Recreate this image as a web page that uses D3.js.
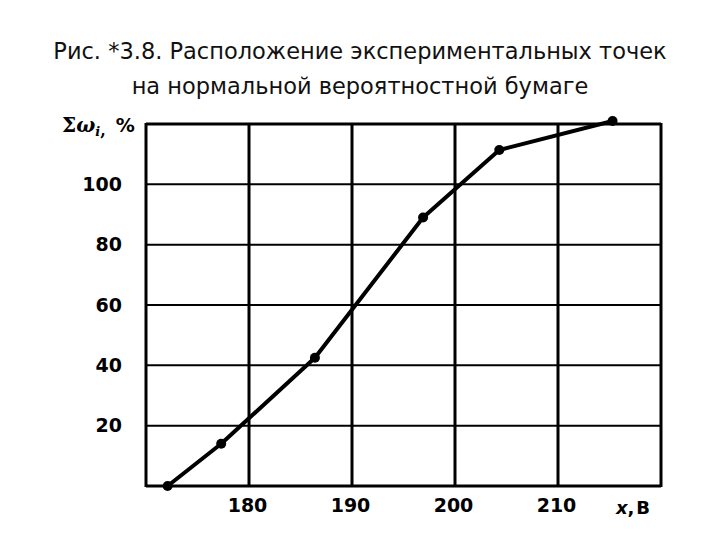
<!DOCTYPE html>
<html>
<head>
<meta charset="utf-8">
<script src="https://cdn.jsdelivr.net/npm/d3@7"></script>
<style>
  html, body { margin: 0; padding: 0; background: #fff; }
  svg { display: block; }
</style>
</head>
<body>
<svg id="chart" width="720" height="540"></svg>
<script>
// ---- data ----
const titleLines = ["Рис. *3.8. Расположение экспериментальных точек", "на нормальной вероятностной бумаге"];
const xValues = [172.1, 177.3, 186.4, 196.9, 204.3, 215.3];
const yValues = [0, 14, 42.5, 89, 111.4, 121];
const xTicks = [180, 190, 200, 210];
const yTicks = [20, 40, 60, 80, 100];
const xGrid = [170, 180, 190, 200, 210, 220];
const yGrid = [0, 20, 40, 60, 80, 100, 120];
const xDomain = [170, 220];
const yDomain = [0, 120];

const svg = d3.select("#chart");

// title
svg.append("g").selectAll("text").data(titleLines).join("text")
  .attr("x", 360)
  .attr("y", (d, i) => 59 + i * 35)
  .attr("text-anchor", "middle")
  .attr("font-family", "DejaVu Sans, sans-serif")
  .attr("font-size", 22.5)
  .attr("fill", "#111")
  .text(d => d);

const x = d3.scaleLinear().domain(xDomain).range([146, 661]);
const y = d3.scaleLinear().domain(yDomain).range([486, 124]);

// grid
svg.append("g").selectAll("line").data(yGrid).join("line")
  .attr("x1", x(xDomain[0])).attr("x2", x(xDomain[1]))
  .attr("y1", d => y(d)).attr("y2", d => y(d))
  .attr("stroke", "#000")
  .attr("stroke-width", (d, i) => (i === 0 || i === yGrid.length - 1) ? 3 : 2);

svg.append("g").selectAll("line").data(xGrid).join("line")
  .attr("y1", y(yDomain[0]) + 1).attr("y2", y(yDomain[1]) - 1)
  .attr("x1", d => x(d)).attr("x2", d => x(d))
  .attr("stroke", "#000")
  .attr("stroke-width", 3);

// axes labels via d3 axes
const xAxis = svg.append("g")
  .attr("transform", `translate(0,${y(0)})`)
  .call(d3.axisBottom(x).tickValues(xTicks).tickSize(0).tickPadding(13).tickFormat(d3.format("d")));
xAxis.select(".domain").remove();
xAxis.selectAll("text")
  .attr("font-family", "DejaVu Sans, sans-serif")
  .attr("font-weight", "bold")
  .attr("font-size", 19)
  .attr("fill", "#000")
  .attr("dx", -2);

const yAxis = svg.append("g")
  .attr("transform", `translate(${x(170) - 24},0)`)
  .call(d3.axisLeft(y).tickValues(yTicks).tickSize(0).tickPadding(0).tickFormat(d3.format("d")));
yAxis.select(".domain").remove();
yAxis.selectAll("text")
  .attr("font-family", "DejaVu Sans, sans-serif")
  .attr("font-weight", "bold")
  .attr("font-size", 19)
  .attr("fill", "#000");

// axis titles
const yt = svg.append("text")
  .attr("x", 62).attr("y", 132)
  .attr("font-family", "DejaVu Serif, serif")
  .attr("font-weight", "bold")
  .attr("font-size", 20)
  .attr("fill", "#000");
yt.append("tspan").text("Σ");
yt.append("tspan").attr("font-style", "italic").text("ω");
yt.append("tspan").attr("font-style", "italic").attr("font-size", 13).attr("dy", 4).text("i");
yt.append("tspan").attr("font-size", 16).text(",");
yt.append("tspan").attr("dy", -4).attr("dx", 10).attr("font-family", "DejaVu Sans, sans-serif").attr("font-size", 19).text("%");

const xt = svg.append("text")
  .attr("x", 633).attr("y", 514)
  .attr("text-anchor", "middle")
  .attr("font-family", "DejaVu Sans, sans-serif")
  .attr("font-weight", "bold")
  .attr("font-size", 18)
  .attr("fill", "#000");
xt.append("tspan").attr("font-style", "italic").text("x");
xt.append("tspan").text(",");
xt.append("tspan").attr("dx", 2).text("B");

// line
const pts = xValues.map((v, i) => [v, yValues[i]]);
svg.append("path")
  .datum(pts)
  .attr("fill", "none")
  .attr("stroke", "#000")
  .attr("stroke-width", 4)
  .attr("stroke-linejoin", "round")
  .attr("d", d3.line().x(d => x(d[0])).y(d => y(d[1])));

svg.append("g").selectAll("circle").data(pts).join("circle")
  .attr("cx", d => x(d[0])).attr("cy", d => y(d[1]))
  .attr("r", 5)
  .attr("fill", "#000");
</script>
</body>
</html>
